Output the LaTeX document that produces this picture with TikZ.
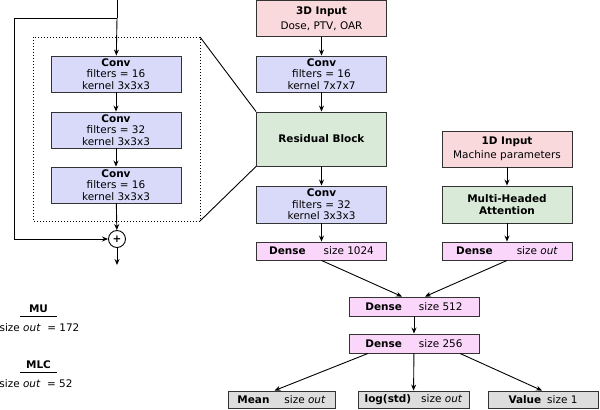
\documentclass[tikz,border=0pt]{standalone}
\usepackage{fontspec}
\setmainfont{DejaVu Sans}
\usetikzlibrary{arrows.meta}

\definecolor{inpink}{HTML}{FAD9DC}
\definecolor{convblue}{HTML}{D9D9F9}
\definecolor{resgreen}{HTML}{D9EAD8}
\definecolor{densepink}{HTML}{FBD6FB}
\definecolor{outgray}{HTML}{DDDDDD}

\begin{document}
\begin{tikzpicture}[x=1bp, y=-1bp,
    font=\fontsize{10.5}{11.5}\selectfont,
    box/.style={draw=black!80, line width=0.9pt, inner sep=0pt, align=center, minimum width=130bp},
    inbox/.style={box, fill=inpink, minimum height=36bp},
    convbox/.style={box, fill=convblue, minimum height=36bp},
    resbox/.style={box, fill=resgreen, minimum height=37bp},
    densebox/.style={box, fill=densepink, minimum height=18bp},
    outbox/.style={box, fill=outgray, minimum height=17bp},
    arr/.style={-{Stealth[length=6bp,width=5bp]}, line width=0.9pt}]
    \useasboundingbox (0,0) rectangle (600,409);
    % residual block, expanded
    \coordinate (top) at (117,0);
    \coordinate (split) at (117,18);
    \coordinate (loopc) at (14,18);
    \node[convbox] (rc1) at (116,74) {\textbf{Conv}\\filters = 16\\kernel 3x3x3};
    \node[convbox] (rc2) at (116,130) {\textbf{Conv}\\filters = 32\\kernel 3x3x3};
    \node[convbox] (rc3) at (116,185) {\textbf{Conv}\\filters = 16\\kernel 3x3x3};
    \node[draw, circle, line width=0.9pt, inner sep=0pt, minimum size=17bp] (plus) at (117,239) {\textbf{+}};
    \coordinate (resout) at (117,265);
    \draw[dotted, line width=1pt] (33,37) rectangle (200,221);
    \coordinate (zoomtop) at (200,37);
    \coordinate (zoombot) at (200,221);
    \draw[line width=0.9pt] (top) -- (split);
    \draw[arr] (split) -- (rc1);
    \draw[arr] (rc1) -- (rc2);
    \draw[arr] (rc2) -- (rc3);
    \draw[arr] (rc3) -- (plus);
    \draw[arr] (split) -- (loopc) |- (plus.west);
    \draw[arr] (plus) -- (resout);
    % 3D branch
    \node[inbox] (in3d) at (321.5,18.5) {\textbf{3D Input}\\[3bp]Dose, PTV, OAR};
    \node[convbox] (conv7) at (321.5,74) {\textbf{Conv}\\filters = 16\\kernel 7x7x7};
    \node[box, fill=resgreen, minimum height=54bp] (res) at (321.5,139) {\textbf{Residual Block}};
    \node[convbox, minimum height=37bp] (conv32) at (321.5,204.5) {\textbf{Conv}\\filters = 32\\kernel 3x3x3};
    \node[densebox] (d1024) at (321.5,251) {\textbf{Dense}\hspace{18bp}size 1024};
    % 1D branch
    \node[inbox] (in1d) at (507,149) {\textbf{1D Input}\\[3bp]Machine parameters};
    \node[resbox] (mha) at (507,204.5) {\textbf{Multi-Headed}\\[1bp]\textbf{Attention}};
    \node[densebox] (dout) at (507,251) {\textbf{Dense}\hspace{24bp}size \textit{out}};
    % head
    \node[densebox, minimum height=19bp] (d512) at (414,306.5) {\textbf{Dense}\hspace{17bp}size 512};
    \node[densebox, minimum height=19bp] (d256) at (414,343.5) {\textbf{Dense}\hspace{17bp}size 256};
    \node[outbox, minimum width=107bp] (mean) at (281.5,399.5) {\textbf{Mean}\hspace{15bp}size \textit{out}};
    \node[outbox, minimum width=111bp] (logstd) at (413.5,399.5) {\textbf{log(std)}\hspace{10bp}size \textit{out}};
    \node[outbox, minimum width=110bp] (value) at (543,399.5) {\textbf{Value}\hspace{6bp}size 1};
    \draw[line width=0.9pt] (zoomtop) -- (res.north west);
    \draw[line width=0.9pt] (zoombot) -- (res.south west);
    \draw[arr] (in3d) -- (conv7);
    \draw[arr] (conv7) -- (res);
    \draw[arr] (res) -- (conv32);
    \draw[arr] (conv32) -- (d1024);
    \draw[arr] (in1d) -- (mha);
    \draw[arr] (mha) -- (dout);
    \draw[arr] (d1024.south) -- ([xshift=-12bp]d512.north);
    \draw[arr] (dout.south) -- ([xshift=11bp]d512.north);
    \draw[arr] (d512) -- (d256);
    \draw[arr] ([xshift=-46bp]d256.south) -- ([xshift=-7bp]mean.north);
    \draw[arr] (d256) -- (logstd);
    \draw[arr] ([xshift=46bp]d256.south) -- ([xshift=-1bp]value.north);
    % output sizes
    \node[font=\fontsize{10.5}{11}\selectfont\bfseries] (mu) at (38.5,309) {MU};
    \draw[line width=0.9pt] (20,316.5) -- (57,316.5);
    \node (musize) at (39.5,328) {size \textit{out}\ \ = 172};
    \node[font=\fontsize{10.5}{11}\selectfont\bfseries] (mlc) at (38.5,365) {MLC};
    \draw[line width=0.9pt] (20,372.5) -- (57,372.5);
    \node (mlcsize) at (36,384) {size \textit{out}\ \ = 52};
\end{tikzpicture}
\end{document}
